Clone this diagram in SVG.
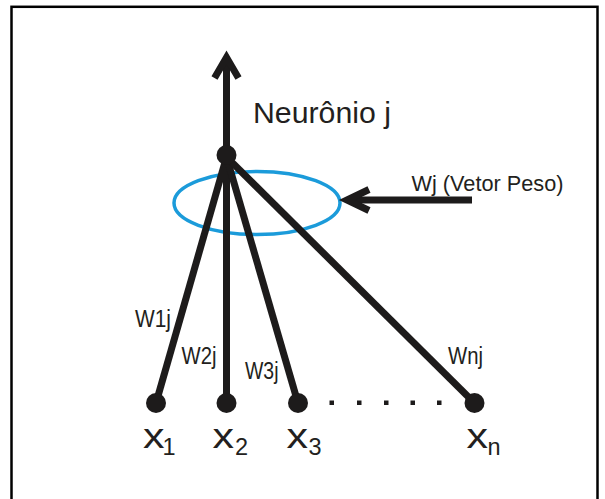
<svg xmlns="http://www.w3.org/2000/svg" width="605" height="499" viewBox="0 0 605 499">
  <style>
    .ln { stroke: #1d1b1b; stroke-width: 7; fill: none; }
    .chev { stroke: #1d1b1b; stroke-width: 7; fill: none; stroke-linejoin: miter; stroke-miterlimit: 10; }
    .dot { fill: #1d1b1b; }
    .t { font-family: "Liberation Sans", Arial, sans-serif; fill: #231f20; }
    .big { font-size: 35px; }
    .sub { font-size: 23.5px; }
    .w { font-size: 23px; }
  </style>
  <rect x="0" y="0" width="605" height="499" fill="#ffffff"/>
  <rect x="11.5" y="6.8" width="586" height="500" fill="none" stroke="#000000" stroke-width="2.5"/>

  <g id="weight-vector">
    <ellipse cx="257" cy="203" rx="83" ry="31.5" fill="none" stroke="#1b9bda" stroke-width="3.5"/>
  </g>

  <g id="connectors">
    <line class="ln" x1="226.5" y1="157" x2="156" y2="403"/>
    <line class="ln" x1="226.5" y1="157" x2="226.5" y2="403"/>
    <line class="ln" x1="226.5" y1="157" x2="298" y2="403"/>
    <line class="ln" x1="226.5" y1="157" x2="474.5" y2="403"/>
    <line class="ln" x1="226.5" y1="155" x2="226.5" y2="60" stroke-width="6.5"/>
    <polyline class="chev" points="214.5,78 226.5,57.5 238.5,78"/>
    <line class="ln" x1="472" y1="200" x2="349" y2="200"/>
    <polyline class="chev" points="369,189.5 347,200 369,210.5"/>
  </g>

  <g id="neuron">
    <circle class="dot" cx="226.5" cy="155" r="10"/>
    <text class="t" x="253" y="123" font-size="29" textLength="138" lengthAdjust="spacingAndGlyphs">Neurônio j</text>
  </g>

  <g id="weight-label">
    <text class="t" x="411.5" y="190.5" font-size="22" textLength="152" lengthAdjust="spacingAndGlyphs">Wj (Vetor Peso)</text>
  </g>

  <g id="weights">
    <text class="t w" x="135" y="326.5" textLength="36" lengthAdjust="spacingAndGlyphs">W1j</text>
    <text class="t w" x="181.5" y="364" textLength="35" lengthAdjust="spacingAndGlyphs">W2j</text>
    <text class="t w" x="245" y="379" textLength="33.5" lengthAdjust="spacingAndGlyphs">W3j</text>
    <text class="t w" x="448" y="363.5" textLength="35" lengthAdjust="spacingAndGlyphs">Wnj</text>
  </g>

  <g id="x1">
    <circle class="dot" cx="156" cy="403" r="10"/>
    <text class="t big" x="143" y="448" textLength="21.5" lengthAdjust="spacingAndGlyphs">x</text>
    <text class="t sub" x="162.5" y="455">1</text>
  </g>
  <g id="x2">
    <circle class="dot" cx="226.5" cy="403" r="10"/>
    <text class="t big" x="212.5" y="448" textLength="21.5" lengthAdjust="spacingAndGlyphs">x</text>
    <text class="t sub" x="235" y="455">2</text>
  </g>
  <g id="x3">
    <circle class="dot" cx="298" cy="403" r="10"/>
    <text class="t big" x="286.5" y="448" textLength="21.5" lengthAdjust="spacingAndGlyphs">x</text>
    <text class="t sub" x="308.5" y="455">3</text>
  </g>
  <g id="xn">
    <circle class="dot" cx="474.5" cy="403" r="10"/>
    <text class="t big" x="466.5" y="448" textLength="21.5" lengthAdjust="spacingAndGlyphs">x</text>
    <text class="t sub" x="487.5" y="455">n</text>
  </g>

  <g id="ellipsis">
    <rect class="dot" x="329.5" y="400.5" width="4.5" height="4.5"/>
    <rect class="dot" x="357" y="400.5" width="4.5" height="4.5"/>
    <rect class="dot" x="384" y="400.5" width="4.5" height="4.5"/>
    <rect class="dot" x="410.5" y="400.5" width="4.5" height="4.5"/>
    <rect class="dot" x="437" y="400.5" width="4.5" height="4.5"/>
  </g>
</svg>
